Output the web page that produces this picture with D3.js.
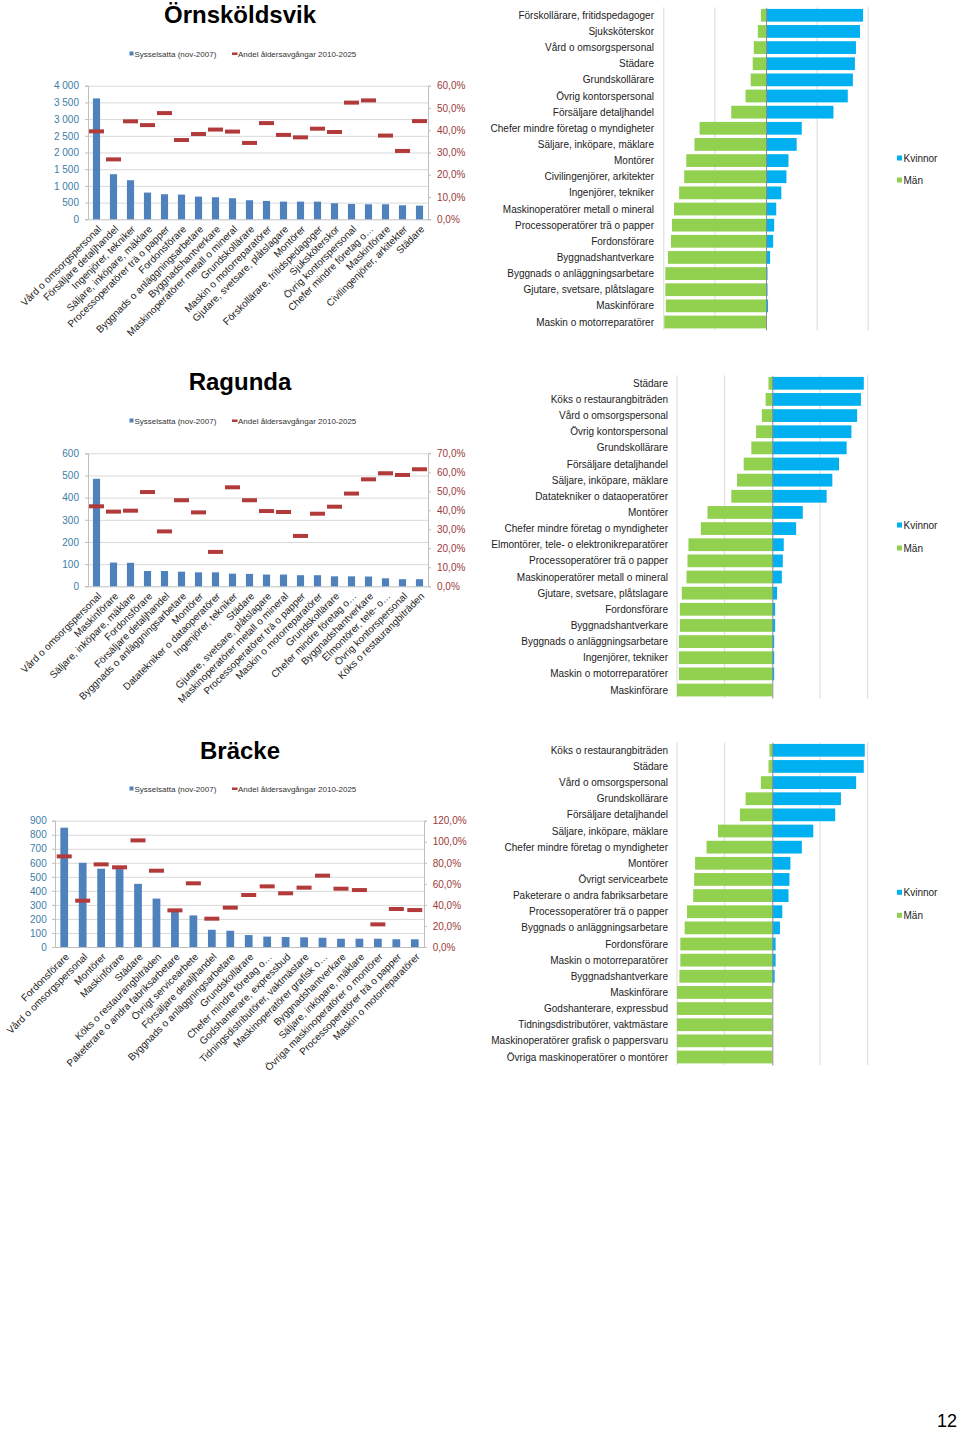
<!DOCTYPE html>
<html>
<head>
<meta charset="utf-8">
<script src="https://cdn.jsdelivr.net/npm/d3@7"></script>
<style>
  html, body { margin: 0; padding: 0; background: #fff; }
  svg { display: block; font-family: "Liberation Sans", Arial, sans-serif; }
</style>
</head>
<body>
<svg id="page" width="960" height="1434"></svg>
<script>
// ---------------- DATA ----------------
const seriesNames = ["Sysselsatta (nov-2007)", "Andel åldersavgångar 2010-2025"];
const genderNames = ["Kvinnor", "Män"];

// Örnsköldsvik
const ornCategories = ["Vård o omsorgspersonal", "Försäljare detaljhandel", "Ingenjörer, tekniker", "Säljare, inköpare, mäklare", "Processoperatörer trä o papper", "Fordonsförare", "Byggnads o anläggningsarbetare", "Byggnadshantverkare", "Maskinoperatörer metall o mineral", "Grundskollärare", "Maskin o motorreparatörer", "Gjutare, svetsare, plåtslagare", "Montörer", "Förskollärare, fritidspedagoger", "Sjuksköterskor", "Övrig kontorspersonal", "Chefer mindre företag o…", "Maskinförare", "Civilingenjörer, arkitekter", "Städare"];
const ornEmployed = [3620, 1350, 1170, 800, 750, 740, 680, 660, 630, 570, 550, 530, 530, 530, 480, 460, 450, 450, 420, 410];
const ornRetire = [39.5, 26.9, 44.0, 42.3, 47.7, 35.6, 38.3, 40.3, 39.4, 34.3, 43.2, 37.9, 36.8, 40.7, 39.2, 52.4, 53.4, 37.6, 30.7, 44.1];
const ornLeftTicks = [0, 500, 1000, 1500, 2000, 2500, 3000, 3500, 4000];
const ornRightTicks = [0, 10, 20, 30, 40, 50, 60];
const ornGenderCats = ["Förskollärare, fritidspedagoger", "Sjuksköterskor", "Vård o omsorgspersonal", "Städare", "Grundskollärare", "Övrig kontorspersonal", "Försäljare detaljhandel", "Chefer mindre företag o myndigheter", "Säljare, inköpare, mäklare", "Montörer", "Civilingenjörer, arkitekter", "Ingenjörer, tekniker", "Maskinoperatörer metall o mineral", "Processoperatörer trä o papper", "Fordonsförare", "Byggnadshantverkare", "Byggnads o anläggningsarbetare", "Gjutare, svetsare, plåtslagare", "Maskinförare", "Maskin o motorreparatörer"];
const ornWomen = [95, 92, 88, 87, 85, 80, 66, 35, 30, 22, 20, 15, 10, 8, 7, 4, 1.5, 1.5, 2, 0.5];
const ornMen = [5, 8, 12, 13, 15, 20, 34, 65, 70, 78, 80, 85, 90, 92, 93, 96, 98.5, 98.5, 98, 99.5];

// Ragunda
const ragCategories = ["Vård o omsorgspersonal", "Maskinförare", "Säljare, inköpare, mäklare", "Fordonsförare", "Försäljare detaljhandel", "Byggnads o anläggningsarbetare", "Montörer", "Datatekniker o dataoperatörer", "Ingenjörer, tekniker", "Städare", "Gjutare, svetsare, plåtslagare", "Maskinoperatörer metall o mineral", "Processoperatörer trä o papper", "Maskin o motorreparatörer", "Grundskollärare", "Chefer mindre företag o…", "Byggnadshantverkare", "Elmontörer, tele- o…", "Övrig kontorspersonal", "Köks o restaurangbiträden"];
const ragEmployed = [485, 107, 106, 69, 69, 66, 63, 63, 57, 56, 53, 53, 50, 50, 45, 45, 44, 36, 32, 32];
const ragRetire = [42.1, 39.3, 39.8, 49.6, 28.9, 45.3, 38.9, 18.1, 52.1, 45.3, 39.6, 39.1, 26.5, 38.2, 41.9, 48.8, 56.3, 59.5, 58.6, 61.6];
const ragLeftTicks = [0, 100, 200, 300, 400, 500, 600];
const ragRightTicks = [0, 10, 20, 30, 40, 50, 60, 70];
const ragGenderCats = ["Städare", "Köks o restaurangbiträden", "Vård o omsorgspersonal", "Övrig kontorspersonal", "Grundskollärare", "Försäljare detaljhandel", "Säljare, inköpare, mäklare", "Datatekniker o dataoperatörer", "Montörer", "Chefer mindre företag o myndigheter", "Elmontörer, tele- o elektronikreparatörer", "Processoperatörer trä o papper", "Maskinoperatörer metall o mineral", "Gjutare, svetsare, plåtslagare", "Fordonsförare", "Byggnadshantverkare", "Byggnads o anläggningsarbetare", "Ingenjörer, tekniker", "Maskin o motorreparatörer", "Maskinförare"];
const ragWomen = [96, 93, 89, 83, 78, 70, 63, 57, 32, 25, 12, 11, 10, 5, 3, 3, 2, 2, 2, 0];
const ragMen = [4, 7, 11, 17, 22, 30, 37, 43, 68, 75, 88, 89, 90, 95, 97, 97, 98, 98, 98, 100];

// Bräcke
const braCategories = ["Fordonsförare", "Vård o omsorgspersonal", "Montörer", "Maskinförare", "Städare", "Köks o restaurangbiträden", "Paketerare o andra fabriksarbetare", "Övrigt servicearbete", "Försäljare detaljhandel", "Byggnads o anläggningsarbetare", "Grundskollärare", "Chefer mindre företag o…", "Godshanterare, expressbud", "Tidningsdistributörer, vaktmästare", "Maskinoperatörer grafisk o…", "Byggnadshantverkare", "Säljare, inköpare, mäklare", "Övriga maskinoperatörer o montörer", "Processoperatörer trä o papper", "Maskin o motorreparatörer"];
const braEmployed = [850, 600, 558, 555, 450, 345, 255, 225, 123, 116, 85, 74, 71, 69, 66, 59, 59, 59, 55, 55];
const braRetire = [86.1, 44.0, 78.5, 75.7, 101.3, 72.5, 34.8, 60.5, 26.9, 37.4, 49.4, 57.6, 51.0, 56.4, 67.8, 55.4, 54.1, 21.5, 36.1, 35.1];
const braLeftTicks = [0, 100, 200, 300, 400, 500, 600, 700, 800, 900];
const braRightTicks = [0, 20, 40, 60, 80, 100, 120];
const braGenderCats = ["Köks o restaurangbiträden", "Städare", "Vård o omsorgspersonal", "Grundskollärare", "Försäljare detaljhandel", "Säljare, inköpare, mäklare", "Chefer mindre företag o myndigheter", "Montörer", "Övrigt servicearbete", "Paketerare o andra fabriksarbetare", "Processoperatörer trä o papper", "Byggnads o anläggningsarbetare", "Fordonsförare", "Maskin o motorreparatörer", "Byggnadshantverkare", "Maskinförare", "Godshanterare, expressbud", "Tidningsdistributörer, vaktmästare", "Maskinoperatörer grafisk o pappersvaru", "Övriga maskinoperatörer o montörer"];
const braWomen = [97, 96, 88, 72, 66, 43, 31, 19, 18, 17, 10.5, 8, 3.5, 3.5, 2.5, 0, 0, 0, 0, 0];
const braMen = [3, 4, 12, 28, 34, 57, 69, 81, 82, 83, 89.5, 92, 96.5, 96.5, 97.5, 100, 100, 100, 100, 100];

const pageNumber = "12";

// ---------------- STYLE ----------------
const C = {
  bar: "#4F81BD",
  marker: "#B23A3A",
  leftAxis: "#3C7DA8",
  rightAxis: "#9B3A3A",
  grid: "#D9D9D9",
  axisLine: "#BFBFBF",
  women: "#00B0F0",
  men: "#92D050",
  text: "#222"
};

const svg = d3.select("#page");

const fmtThousands = v => d3.format(",")(v).replace(/,/g, " ");
const fmtPct = v => d3.format(".1f")(v).replace(".", ",") + "%";

function drawCombo(cfg) {
  const g = svg.append("g");
  g.append("text").attr("x", 240).attr("y", cfg.titleY)
    .attr("text-anchor", "middle").attr("font-size", 24).attr("font-weight", "bold")
    .attr("fill", "#000").text(cfg.title);
  const lg = g.append("g").attr("font-size", 8).attr("fill", "#333");
  lg.append("rect").attr("x", 129.5).attr("y", cfg.legendY - 2.5).attr("width", 4).attr("height", 4).attr("fill", C.bar);
  lg.append("text").attr("x", 134.5).attr("y", cfg.legendY).attr("dy", "0.35em").text(seriesNames[0]);
  lg.append("rect").attr("x", 232).attr("y", cfg.legendY - 1.5).attr("width", 5.5).attr("height", 2.5).attr("fill", C.marker);
  lg.append("text").attr("x", 238).attr("y", cfg.legendY).attr("dy", "0.35em").text(seriesNames[1]);

  const x = d3.scaleBand().domain(cfg.categories).range([cfg.left, cfg.right]).paddingInner(0).paddingOuter(0);
  const yL = d3.scaleLinear().domain([0, d3.max(cfg.leftTicks)]).range([cfg.bottom, cfg.top]);
  const yR = d3.scaleLinear().domain([0, d3.max(cfg.rightTicks)]).range([cfg.bottom, cfg.top]);

  g.append("g").selectAll("line").data(cfg.leftTicks.filter(t => t > 0)).join("line")
    .attr("x1", cfg.left).attr("x2", cfg.right)
    .attr("y1", d => yL(d) + 0.5).attr("y2", d => yL(d) + 0.5)
    .attr("stroke", C.grid).attr("stroke-width", 1);

  const axL = g.append("g").attr("transform", `translate(${cfg.left},0)`)
    .call(d3.axisLeft(yL).tickValues(cfg.leftTicks).tickFormat(fmtThousands).tickSize(3).tickPadding(cfg.left - cfg.leftLabelX - 3));
  axL.select(".domain").attr("stroke", C.axisLine);
  axL.selectAll(".tick line").attr("stroke", C.axisLine);
  axL.selectAll(".tick text").attr("fill", C.leftAxis).attr("font-size", 10).attr("font-family", null);

  const axR = g.append("g").attr("transform", `translate(${cfg.right},0)`)
    .call(d3.axisRight(yR).tickValues(cfg.rightTicks).tickFormat(fmtPct).tickSize(3).tickPadding(cfg.rightLabelX - cfg.right - 3));
  axR.select(".domain").attr("stroke", C.axisLine);
  axR.selectAll(".tick line").attr("stroke", C.axisLine);
  axR.selectAll(".tick text").attr("fill", C.rightAxis).attr("font-size", 10).attr("font-family", null);

  const axB = g.append("g").attr("transform", `translate(0,${cfg.bottom})`)
    .call(d3.axisBottom(x).tickSize(0).tickFormat(""));
  axB.select(".domain").attr("stroke", C.axisLine);

  const bw = x.bandwidth() * 0.42;
  g.append("g").selectAll("rect").data(cfg.categories).join("rect")
    .attr("x", (d) => x(d) + x.bandwidth() / 2 - bw / 2)
    .attr("width", bw)
    .attr("y", (d, i) => yL(cfg.employed[i]))
    .attr("height", (d, i) => cfg.bottom - yL(cfg.employed[i]))
    .attr("fill", C.bar);

  g.append("g").selectAll("rect").data(cfg.categories).join("rect")
    .attr("x", d => x(d) + x.bandwidth() / 2 - 7.5)
    .attr("width", 15)
    .attr("y", (d, i) => yR(cfg.retire[i]) - 2)
    .attr("height", 4)
    .attr("fill", C.marker);

  g.append("g").attr("font-size", 10).attr("fill", C.text)
    .selectAll("text").data(cfg.categories).join("text")
    .attr("text-anchor", "end")
    .attr("transform", d => `translate(${x(d) + x.bandwidth() / 2 + 3},${cfg.bottom + 8}) rotate(-45)`)
    .attr("dy", "0.35em")
    .text(d => d);
}

function drawButterfly(cfg) {
  const g = svg.append("g");
  const x = d3.scaleLinear().domain([-100, 100]).range([cfg.center - cfg.half, cfg.center + cfg.half]);
  const y = d3.scaleBand().domain(cfg.categories).range([cfg.top, cfg.bottom]).paddingInner(0.21).paddingOuter(0.1);

  g.append("g").selectAll("line").data([-100, -50, 50, 100]).join("line")
    .attr("x1", d => x(d)).attr("x2", d => x(d))
    .attr("y1", cfg.top).attr("y2", cfg.bottom)
    .attr("stroke", C.grid).attr("stroke-width", 1);

  g.append("g").selectAll("rect").data(cfg.categories).join("rect")
    .attr("x", (d, i) => x(-cfg.men[i]))
    .attr("width", (d, i) => x(0) - x(-cfg.men[i]))
    .attr("y", d => y(d)).attr("height", y.bandwidth())
    .attr("fill", C.men);
  g.append("g").selectAll("rect").data(cfg.categories).join("rect")
    .attr("x", x(0))
    .attr("width", (d, i) => x(cfg.women[i]) - x(0))
    .attr("y", d => y(d)).attr("height", y.bandwidth())
    .attr("fill", C.women);

  const ax = g.append("g").attr("transform", `translate(${x(0)},0)`)
    .call(d3.axisLeft(y).tickSize(0).tickFormat(""));
  ax.select(".domain").attr("stroke", "#8C8C8C");

  g.append("g").attr("font-size", 10).attr("fill", C.text)
    .selectAll("text").data(cfg.categories).join("text")
    .attr("x", cfg.labelX).attr("y", d => y(d) + y.bandwidth() / 2)
    .attr("dy", "0.35em").attr("text-anchor", "end")
    .text(d => d);

  const lg = g.append("g").attr("font-size", 10).attr("fill", C.text);
  [[genderNames[0], C.women, cfg.legendY1], [genderNames[1], C.men, cfg.legendY2]].forEach(([name, col, ly]) => {
    lg.append("rect").attr("x", 897).attr("y", ly - 2.5).attr("width", 5).attr("height", 5).attr("fill", col);
    lg.append("text").attr("x", 903.5).attr("y", ly).attr("dy", "0.35em").text(name);
  });
}

drawCombo({ title: "Örnsköldsvik", titleY: 23, legendY: 54,
  categories: ornCategories, employed: ornEmployed, retire: ornRetire,
  leftTicks: ornLeftTicks, rightTicks: ornRightTicks,
  left: 88, right: 428, top: 85.7, bottom: 219.3, leftLabelX: 79, rightLabelX: 437 });
drawButterfly({ categories: ornGenderCats, women: ornWomen, men: ornMen,
  center: 766, half: 102.2, top: 7.3, bottom: 330, labelX: 654, legendY1: 158, legendY2: 180 });

drawCombo({ title: "Ragunda", titleY: 390, legendY: 421,
  categories: ragCategories, employed: ragEmployed, retire: ragRetire,
  leftTicks: ragLeftTicks, rightTicks: ragRightTicks,
  left: 88, right: 428, top: 453.3, bottom: 586.3, leftLabelX: 79, rightLabelX: 437 });
drawButterfly({ categories: ragGenderCats, women: ragWomen, men: ragMen,
  center: 772.3, half: 95.3, top: 375.3, bottom: 698, labelX: 668, legendY1: 525, legendY2: 548 });

drawCombo({ title: "Bräcke", titleY: 759, legendY: 789,
  categories: braCategories, employed: braEmployed, retire: braRetire,
  leftTicks: braLeftTicks, rightTicks: braRightTicks,
  left: 55, right: 424, top: 820.7, bottom: 947, leftLabelX: 46.7, rightLabelX: 432.7 });
drawButterfly({ categories: braGenderCats, women: braWomen, men: braMen,
  center: 772.3, half: 95.3, top: 742.3, bottom: 1065, labelX: 668, legendY1: 892.3, legendY2: 915.3 });

svg.append("text").attr("x", 957).attr("y", 1427).attr("text-anchor", "end")
  .attr("font-size", 18).attr("fill", "#000").attr("font-family", "'Liberation Sans', sans-serif")
  .text(pageNumber);
</script>
</body>
</html>
